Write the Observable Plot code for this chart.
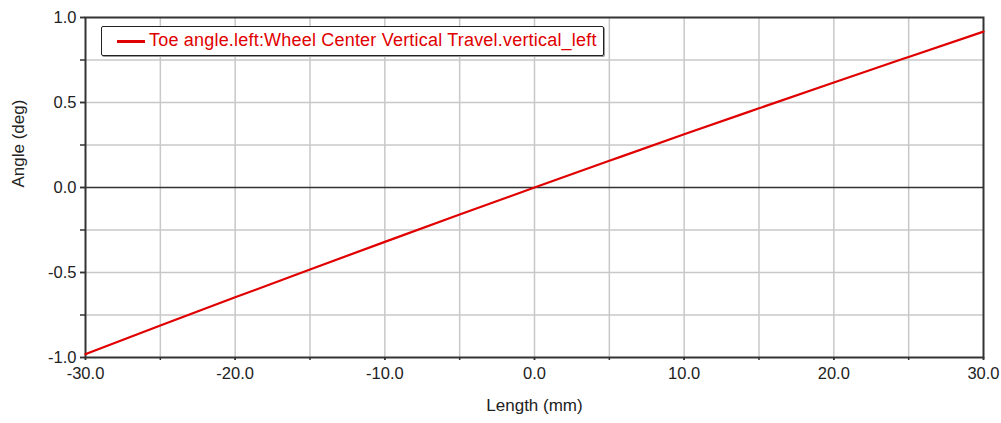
<!DOCTYPE html>
<html><head><meta charset="utf-8">
<script src="https://cdn.jsdelivr.net/npm/d3@7"></script>
<script src="https://cdn.jsdelivr.net/npm/@observablehq/plot@0.6"></script>
<style>
body{margin:0;background:#fff;}
#wrap{position:relative;width:1001px;height:423px;font-family:"Liberation Sans",Arial,sans-serif;}
#legend{position:absolute;left:101px;top:26px;width:501px;height:28px;border:1.5px solid #222;border-radius:2px;background:#fff;box-shadow:1px 1px 0 #999;}
#legend .sw{position:absolute;left:15px;top:13px;width:28px;height:2.5px;background:#e00000;}
#legend .tx{position:absolute;left:47px;top:2px;font-size:18px;line-height:22px;color:#e00000;white-space:nowrap;letter-spacing:0.2px;}
</style></head>
<body><div id="wrap"></div>
<script>
const lengthMM = [-30,-25,-20,-15,-10,-5,0,5,10,15,20,25,30];
const toeAngle = [-0.980,-0.812,-0.646,-0.482,-0.320,-0.159,0,0.157,0.313,0.466,0.618,0.768,0.917];
const xTicks = [-30,-20,-10,0,10,20,30];
const xGrid = [-25,-20,-15,-10,-5,0,5,10,15,20,25];
const yTicks = [-1,-0.5,0,0.5,1];
const yGrid = [-0.75,-0.5,-0.25,0.25,0.5,0.75];
const yMinor = [-1,-0.75,-0.5,-0.25,0,0.25,0.5,0.75,1];
const xMinor = [-30,-25,-20,-15,-10,-5,0,5,10,15,20,25,30];
const seriesName = "Toe angle.left:Wheel Center Vertical Travel.vertical_left";
const data = lengthMM.map((x,i)=>({x, y: toeAngle[i]}));

const chart = Plot.plot({
  width: 1001, height: 423,
  marginLeft: 85, marginRight: 18, marginTop: 17, marginBottom: 66,
  style: {fontFamily: "Liberation Sans, Arial, sans-serif", fontSize: "16px", color: "#222", background: "#fff"},
  x: {domain: [-30, 30], label: null},
  y: {domain: [-1, 1], label: null},
  marks: [
    Plot.ruleX(xGrid, {stroke: "#c8c8c8", strokeWidth: 1.5}),
    Plot.ruleY(yGrid, {stroke: "#c8c8c8", strokeWidth: 1.5}),
    Plot.ruleY([0], {stroke: "#333", strokeWidth: 1.5}),
    Plot.axisY(yMinor, {tickSize: 5, text: null, stroke: "#333", strokeWidth: 1.5}),
    Plot.axisY(yTicks, {tickSize: 5, tickFormat: d => d.toFixed(1), tickPadding: 4, fontSize: 16.5, fill: "#222", stroke: "#333", strokeWidth: 1.5}),
    Plot.axisX(xMinor, {tickSize: 3, text: null, stroke: "#333", strokeWidth: 1.5}),
    Plot.axisX(xTicks, {tickSize: 3, tickFormat: d => d.toFixed(1), tickPadding: 7, fontSize: 16.5, fill: "#222", stroke: "#333", strokeWidth: 1.5}),
    Plot.frame({stroke: "#333", strokeWidth: 2}),
    Plot.line(data, {x: "x", y: "y", stroke: "#e00000", strokeWidth: 2.2, curve: "monotone-x"}),
    Plot.text(["Length (mm)"], {frameAnchor: "bottom", dy: 53, fontSize: 17, fill: "#222"}),
    Plot.text(["Angle (deg)"], {frameAnchor: "left", dx: -67, rotate: -90, fontSize: 17, fill: "#222"})
  ]
});
const wrap = document.getElementById("wrap");
wrap.appendChild(chart);
const lg = document.createElement("div");
lg.id = "legend";
lg.innerHTML = '<div class="sw"></div><div class="tx"></div>';
lg.querySelector(".tx").textContent = seriesName;
wrap.appendChild(lg);
</script></body></html>
